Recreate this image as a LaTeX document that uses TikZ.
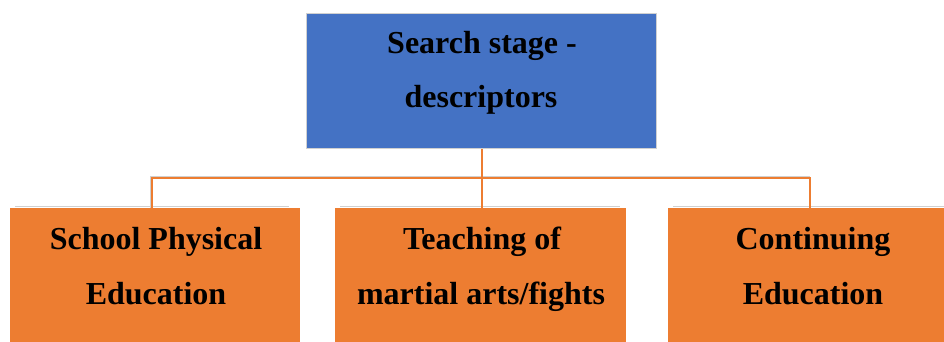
\documentclass[tikz,border=0pt]{standalone}
\usepackage{fontspec}
\setmainfont{Liberation Serif}
\definecolor{topblue}{HTML}{4472C4}
\definecolor{boxorange}{HTML}{ED7D31}
\definecolor{edgegray}{HTML}{D0D0D0}
\begin{document}
\begin{tikzpicture}[x=1pt,y=-1pt,
  topbox/.style={draw=edgegray, line width=1pt, fill=topblue, minimum width=350pt, minimum height=135pt, inner sep=0pt, anchor=north west},
  leafbox/.style={fill=boxorange, minimum height=134pt, inner sep=0pt, anchor=north west},
  txt/.style={font=\bfseries\fontsize{32}{38}\selectfont, text=black, anchor=base, inner sep=0pt},
  conn/.style={draw=boxorange, line width=2.5pt},
  connshadow/.style={draw=edgegray, line width=1pt}]
\useasboundingbox (0,0) rectangle (944,342);
\fill[white] (0,0) rectangle (944,342);
% boxes
\node[topbox] (top) at (306,13) {};
\draw[edgegray, line width=1pt] (15,206.5) -- (289,206.5);
\draw[edgegray, line width=1pt] (340,206.5) -- (620,206.5);
\draw[edgegray, line width=1pt] (673,206.5) -- (944,206.5);
\node[leafbox, minimum width=290pt] (b1) at (10,208) {};
\node[leafbox, minimum width=291pt] (b2) at (335,208) {};
\node[leafbox, minimum width=276pt] (b3) at (668,208) {};
% connectors
\coordinate (bus) at (482,178);
\coordinate (c1) at (152,208);
\coordinate (c3) at (810,208);
\draw[connshadow] ([xshift=-2pt]c1) -- ([xshift=-2pt,yshift=2pt]c1 |- bus) -- ([yshift=2pt]c3 |- bus);
\draw[conn] (top.south -| bus) -- (bus |- b2.north);
\draw[conn] (bus) -| (c1);
\draw[conn] (bus) -| (c3);
% texts
\node[txt] (t1a) at (482,54) {Search stage -};
\node[txt] (t1b) at (481,108) {descriptors};
\node[txt] (t2a) at (156,249) {School Physical};
\node[txt] (t2b) at (156,304) {Education};
\node[txt] (t3a) at (482,249) {Teaching of};
\node[txt] (t3b) at (481,304) {martial arts/fights};
\node[txt] (t4a) at (813,249) {Continuing};
\node[txt] (t4b) at (813,304) {Education};
\end{tikzpicture}
\end{document}
